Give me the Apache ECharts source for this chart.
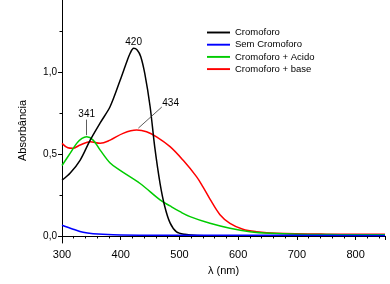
<!DOCTYPE html>
<html>
<head>
<meta charset="utf-8">
<script src="https://cdn.jsdelivr.net/npm/echarts@6/dist/echarts.min.js"></script>
<style>
  html, body { margin: 0; padding: 0; background: #fff; }
  #main { width: 390px; height: 284px; }
</style>
</head>
<body>
<div id="main"></div>
<script>
// wavelength (nm) / absorbance
var wlCromo   = [300, 314, 331, 348, 365, 382, 399, 410, 416, 422, 428, 434, 441, 450, 458, 467, 475, 484, 495, 509, 530, 600, 700, 850];
var absCromo  = [0.34, 0.384, 0.463, 0.585, 0.69, 0.79, 0.95, 1.06, 1.115, 1.145, 1.135, 1.095, 0.99, 0.79, 0.54, 0.32, 0.18, 0.08, 0.025, 0.01, 0.003, 0.001, 0.001, 0.001];

var wlSem     = [300, 319, 336, 353, 387, 450, 600, 850];
var absSem    = [0.065, 0.041, 0.022, 0.014, 0.008, 0.005, 0.004, 0.003];

var wlAcido   = [300, 314, 325, 334, 342, 353, 365, 382, 399, 433, 467, 484, 501, 518, 552, 586, 620, 654, 700, 775, 850];
var absAcido  = [0.43, 0.505, 0.565, 0.595, 0.605, 0.585, 0.524, 0.445, 0.40, 0.32, 0.22, 0.183, 0.148, 0.118, 0.077, 0.047, 0.026, 0.016, 0.01, 0.008, 0.007];

var wlBase    = [300, 310, 318, 331, 348, 365, 382, 404, 427, 444, 461, 484, 506, 529, 540, 552, 569, 586, 608, 631, 665, 750, 850];
var absBase   = [0.565, 0.538, 0.535, 0.555, 0.575, 0.565, 0.585, 0.626, 0.646, 0.636, 0.605, 0.545, 0.463, 0.362, 0.30, 0.225, 0.13, 0.077, 0.041, 0.026, 0.016, 0.011, 0.01];

var seriesNames = ['Cromoforo', 'Sem Cromoforo', 'Cromoforo + Acido', 'Cromoforo + base'];
var yMajor = [0, 0.5, 1.0];
var yMinor = [0.25, 0.75, 1.25];

function pairs(xs, ys) {
  return xs.map(function (x, i) { return [x, ys[i]]; });
}

var font = '"Liberation Sans", Arial, sans-serif';
var leader = { color: '#333', width: 0.8, type: 'solid' };

function peakLabel(text, x, y) {
  return {
    coord: [x, y], symbolSize: 0,
    label: { show: true, formatter: text, position: 'inside', color: '#000', fontSize: 10, fontFamily: font }
  };
}

var chart = echarts.init(document.getElementById('main'));
chart.setOption({
  animation: false,
  backgroundColor: '#fff',
  grid: { left: 62, right: 5, top: 0, bottom: 41 },
  legend: {
    orient: 'vertical',
    left: 207, top: 27.5, padding: 0,
    itemWidth: 23, itemHeight: 8, itemGap: 2.2,
    icon: 'path://M0,0H24V2H0Z',
    textStyle: { fontSize: 9.5, lineHeight: 10, fontFamily: font, color: '#000' },
    data: seriesNames
  },
  xAxis: {
    type: 'value', min: 300, max: 850, interval: 100,
    name: 'λ (nm)', nameLocation: 'middle', nameGap: 22,
    nameTextStyle: { fontSize: 11, fontFamily: font, color: '#000' },
    axisLine: { lineStyle: { color: '#000', width: 1 } },
    axisTick: { length: 4, lineStyle: { color: '#000' } },
    minorTick: { show: true, splitNumber: 5, length: 2.5, lineStyle: { color: '#000' } },
    axisLabel: { fontSize: 11, fontFamily: font, color: '#000', margin: 6, showMaxLabel: false },
    splitLine: { show: false }
  },
  yAxis: [{
    type: 'value', min: -0.043, max: 1.44,
    name: 'Absorbância', nameLocation: 'middle', nameGap: 34,
    nameTextStyle: { fontSize: 11, fontFamily: font, color: '#000', padding: [0, 18, 0, 0] },
    axisLine: { show: true, lineStyle: { color: '#000', width: 1 } },
    axisTick: { show: true, length: 4, customValues: yMajor, lineStyle: { color: '#000' } },
    axisLabel: {
      fontSize: 10, fontFamily: font, color: '#000', margin: 5, customValues: yMajor,
      formatter: function (v) { return v.toFixed(1).replace('.', ','); }
    },
    splitLine: { show: false }
  }, {
    type: 'value', min: -0.043, max: 1.44, position: 'left',
    axisLine: { show: false },
    axisTick: { show: true, length: 2.5, customValues: yMinor, lineStyle: { color: '#000' } },
    axisLabel: { show: false },
    splitLine: { show: false }
  }],
  series: [{
    name: seriesNames[0], type: 'line', smooth: 0.3, symbol: 'none',
    lineStyle: { color: '#000', width: 1.5 }, itemStyle: { color: '#000' },
    data: pairs(wlCromo, absCromo), z: 4,
    markPoint: { silent: true, data: [peakLabel('420', 422, 1.185)] }
  }, {
    name: seriesNames[1], type: 'line', smooth: 0.35, symbol: 'none',
    lineStyle: { color: '#0000ff', width: 1.5 }, itemStyle: { color: '#0000ff' },
    data: pairs(wlSem, absSem), z: 5
  }, {
    name: seriesNames[2], type: 'line', smooth: 0.35, symbol: 'none',
    lineStyle: { color: '#00cc00', width: 1.5 }, itemStyle: { color: '#00cc00' },
    data: pairs(wlAcido, absAcido), z: 3,
    markPoint: { silent: true, data: [peakLabel('341', 342, 0.74)] },
    markLine: {
      silent: true, symbol: 'none', label: { show: false }, lineStyle: leader,
      data: [[{ coord: [342, 0.615] }, { coord: [342, 0.71] }]]
    }
  }, {
    name: seriesNames[3], type: 'line', smooth: 0.35, symbol: 'none',
    lineStyle: { color: '#ff0000', width: 1.5 }, itemStyle: { color: '#ff0000' },
    data: pairs(wlBase, absBase), z: 2,
    markPoint: { silent: true, data: [peakLabel('434', 485, 0.81)] },
    markLine: {
      silent: true, symbol: 'none', label: { show: false }, lineStyle: leader,
      data: [[{ coord: [430, 0.658] }, { coord: [470, 0.787] }]]
    }
  }]
});
</script>
</body>
</html>
